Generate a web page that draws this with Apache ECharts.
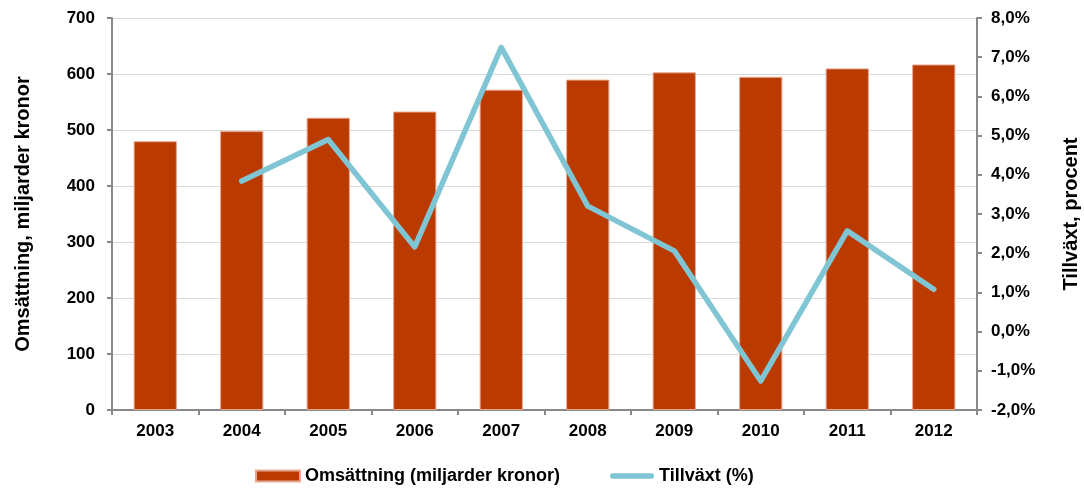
<!DOCTYPE html>
<html>
<head>
<meta charset="utf-8">
<script src="https://cdn.jsdelivr.net/npm/echarts@6/dist/echarts.min.js"></script>
<style>
html,body{margin:0;padding:0;background:#fff;}
#c{width:1084px;height:488px;}
</style>
</head>
<body>
<div id="c"></div>
<script>
var years = ['2003','2004','2005','2006','2007','2008','2009','2010','2011','2012'];
var omsattning = [480, 498, 522, 533, 572, 590, 603, 595, 610, 617];
var tillvaxt = [null, 3.84, 4.9, 2.16, 7.25, 3.2, 2.06, -1.26, 2.57, 1.08];

var font = '"Liberation Sans", Arial, sans-serif';
var axisGray = '#898989';
var lineColor = '#7FC5D4';
var chart = echarts.init(document.getElementById('c'));
chart.setOption({
  animation: false,
  textStyle: {fontFamily: font},
  grid: {left: 112, right: 107, top: 18, bottom: 78, containLabel: false, outerBoundsMode: 'none'},
  legend: {
    bottom: 3, left: 255, padding: 0,
    itemGap: 50,
    itemWidth: 44, itemHeight: 11,
    textStyle: {fontFamily: font, fontWeight: 'bold', fontSize: 18, color: '#000'},
    data: [
      {name: 'Omsättning (miljarder kronor)', icon: 'rect'},
      {name: 'Tillväxt (%)', icon: 'path://M3,0 H43 A3,3 0 0 1 43,6 H3 A3,3 0 0 1 3,0 Z'}
    ]
  },
  xAxis: {
    type: 'category',
    data: years,
    boundaryGap: true,
    axisLine: {lineStyle: {color: axisGray, width: 2}},
    axisTick: {show: true, length: 5, lineStyle: {color: axisGray, width: 2}},
    axisLabel: {color: '#000', fontWeight: 'bold', fontSize: 17, margin: 13, fontFamily: font}
  },
  yAxis: [
    {
      type: 'value', min: 0, max: 700, interval: 100,
      name: 'Omsättning, miljarder kronor',
      nameLocation: 'middle', nameGap: 79, nameRotate: 90,
      nameTextStyle: {color: '#000', fontWeight: 'bold', fontSize: 20, fontFamily: font},
      axisLine: {show: true, lineStyle: {color: axisGray, width: 2}},
      axisTick: {show: true, length: 5, lineStyle: {color: axisGray, width: 2}},
      axisLabel: {color: '#000', fontWeight: 'bold', fontSize: 17, margin: 17, fontFamily: font},
      splitLine: {show: true, lineStyle: {color: '#d9d9d9', width: 1}}
    },
    {
      type: 'value', min: -2, max: 8, interval: 1,
      name: 'Tillväxt, procent',
      nameLocation: 'middle', nameGap: 84, nameRotate: 90,
      nameTextStyle: {color: '#000', fontWeight: 'bold', fontSize: 20, fontFamily: font},
      axisLine: {show: true, lineStyle: {color: axisGray, width: 2}},
      axisTick: {show: true, length: 5, lineStyle: {color: axisGray, width: 2}},
      axisLabel: {
        color: '#000', fontWeight: 'bold', fontSize: 17, margin: 14, fontFamily: font,
        formatter: function (v) { return v.toFixed(1).replace('.', ',') + '%'; }
      },
      splitLine: {show: false}
    }
  ],
  series: [
    {
      name: 'Omsättning (miljarder kronor)',
      type: 'bar',
      data: omsattning,
      yAxisIndex: 0,
      barWidth: '50%',
      itemStyle: {color: '#BB3A00', borderColor: '#E8A890', borderWidth: 1}
    },
    {
      name: 'Tillväxt (%)',
      type: 'line',
      data: tillvaxt,
      yAxisIndex: 1,
      symbol: 'none',
      lineStyle: {color: lineColor, width: 5.5, cap: 'round', join: 'round'},
      itemStyle: {color: lineColor}
    }
  ]
});
</script>
</body>
</html>
